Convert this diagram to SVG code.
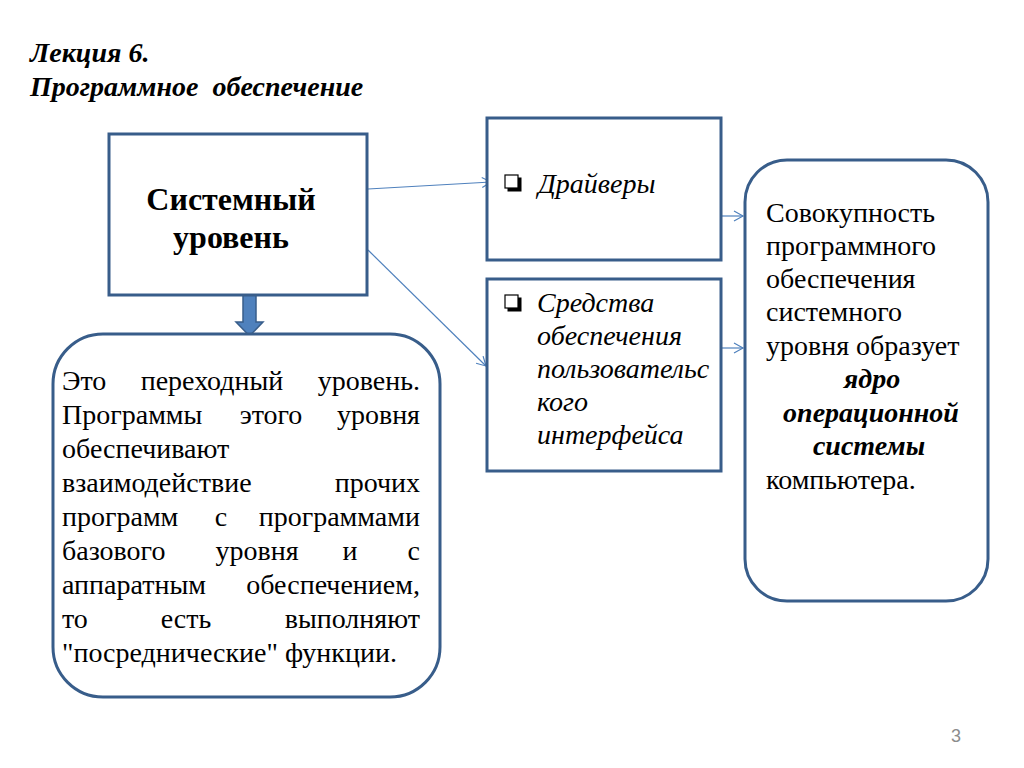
<svg xmlns="http://www.w3.org/2000/svg" width="1024" height="768" viewBox="0 0 1024 768">
<style>
.box{fill:#fff;stroke:#385D8A;stroke-width:3}
.con{stroke:#4F81BD;stroke-width:1.2;fill:none}
.chk{fill:#fff;stroke:#000;stroke-width:1.2}
.sh{fill:#000}
.t{font-family:"Liberation Serif","Times New Roman",serif;font-size:28px;fill:#000}
.h{font-family:"Liberation Serif","Times New Roman",serif;font-size:32px;font-weight:bold;fill:#000}
.it{font-style:italic}
.b{font-weight:bold}
</style>
<defs>
<marker id="oa" markerWidth="12" markerHeight="12" refX="10" refY="6" orient="auto" markerUnits="userSpaceOnUse">
<path d="M1,1 L10,6 L1,11" fill="none" stroke="#4F81BD" stroke-width="1.2"/>
</marker>
</defs>
<rect width="1024" height="768" fill="#fff"/>
<g id="title">
<text class="t it b" x="30" y="62">Лекция 6.</text>
<text class="t it b" x="30" y="96" xml:space="preserve">Программное  обеспечение</text>
</g>
<g id="connectors">
<line class="con" x1="368" y1="189" x2="491" y2="182" marker-end="url(#oa)"/>
<line class="con" x1="368" y1="250" x2="486" y2="366" marker-end="url(#oa)"/>
<line class="con" x1="722" y1="216" x2="743" y2="216" marker-end="url(#oa)"/>
<line class="con" x1="722" y1="348" x2="743" y2="348" marker-end="url(#oa)"/>
<path d="M243,294 L256,294 L256,322 L263,322 L249.5,336 L236,322 L243,322 Z" fill="#4F81BD" stroke="#385D8A" stroke-width="1.5"/>
</g>
<g id="system">
<rect class="box" x="109" y="134" width="258" height="161"/>
<text class="h" x="231" y="210" text-anchor="middle">Системный</text>
<text class="h" x="231" y="248" text-anchor="middle">уровень</text>
</g>
<g id="drivers">
<rect class="box" x="487" y="118" width="234" height="142"/>
<rect class="sh" x="507.5" y="177.5" width="14" height="14"/>
<rect class="chk" x="505" y="175" width="13" height="13"/>
<text class="t it" x="538" y="193">Драйверы</text>
</g>
<g id="ui">
<rect class="box" x="487" y="279" width="234" height="192"/>
<rect class="sh" x="507.5" y="297.5" width="14" height="14"/>
<rect class="chk" x="505" y="295" width="13" height="13"/>
<text class="t it" x="537" y="312">Средства</text>
<text class="t it" x="537" y="345">обеспечения</text>
<text class="t it" x="537" y="378">пользовательс</text>
<text class="t it" x="537" y="411">кого</text>
<text class="t it" x="537" y="444">интерфейса</text>
</g>
<g id="kernel">
<rect class="box" x="745" y="160" width="243" height="441" rx="42" ry="42"/>
<text class="t" x="766" y="222">Совокупность</text>
<text class="t" x="766" y="255">программного</text>
<text class="t" x="766" y="288">обеспечения</text>
<text class="t" x="766" y="321">системного</text>
<text class="t" x="766" y="355">уровня образует</text>
<text class="t it b" x="872" y="388" text-anchor="middle">ядро</text>
<text class="t it b" x="871" y="422" text-anchor="middle">операционной</text>
<text class="t it b" x="869" y="455" text-anchor="middle">системы</text>
<text class="t" x="766" y="489">компьютера.</text>
</g>
<g id="transition">
<rect class="box" x="53" y="334" width="387" height="363" rx="50" ry="50"/>
<text class="t" x="62" y="390">Это</text>
<text class="t" x="212" y="390" text-anchor="middle">переходный</text>
<text class="t" x="420" y="390" text-anchor="end">уровень.</text>
<text class="t" x="62" y="424">Программы</text>
<text class="t" x="271" y="424" text-anchor="middle">этого</text>
<text class="t" x="420" y="424" text-anchor="end">уровня</text>
<text class="t" x="62" y="458">обеспечивают</text>
<text class="t" x="62" y="492">взаимодействие</text>
<text class="t" x="420" y="492" text-anchor="end">прочих</text>
<text class="t" x="62" y="526">программ</text>
<text class="t" x="221" y="526" text-anchor="middle">с</text>
<text class="t" x="420" y="526" text-anchor="end">программами</text>
<text class="t" x="62" y="560">базового</text>
<text class="t" x="257" y="560" text-anchor="middle">уровня</text>
<text class="t" x="350" y="560" text-anchor="middle">и</text>
<text class="t" x="420" y="560" text-anchor="end">с</text>
<text class="t" x="62" y="594">аппаратным</text>
<text class="t" x="420" y="594" text-anchor="end">обеспечением,</text>
<text class="t" x="62" y="628">то</text>
<text class="t" x="186" y="628" text-anchor="middle">есть</text>
<text class="t" x="420" y="628" text-anchor="end">выполняют</text>
<text class="t" x="62" y="662">"посреднические" функции.</text>
</g>
<text x="956" y="742" text-anchor="middle" font-family="Liberation Sans, Arial, sans-serif" font-size="18" fill="#8c8c8c">3</text>
</svg>
